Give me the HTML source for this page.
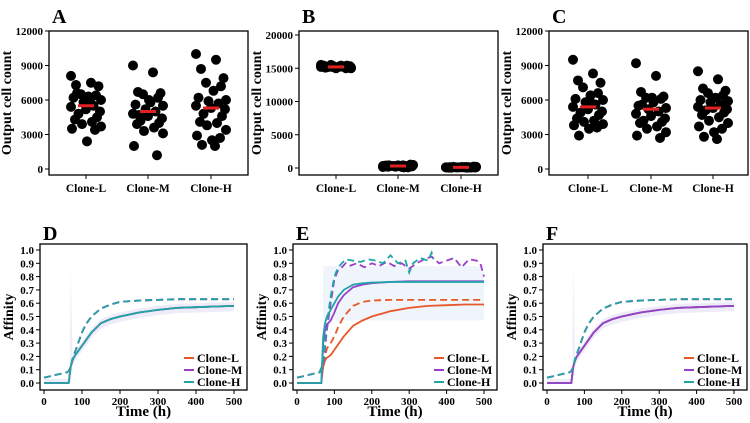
<!DOCTYPE html>
<html><head><meta charset="utf-8"><style>
html,body{margin:0;padding:0;background:#fff;}
svg{display:block;}
svg text{font-family:"Liberation Serif","DejaVu Serif",serif;font-weight:bold;}
</style></head><body>
<svg id="fig" width="750" height="423" viewBox="0 0 750 423" xmlns="http://www.w3.org/2000/svg"></svg>
<script>
const clones=["Clone-L","Clone-M","Clone-H"];
const aL=[8100,7500,7300,7200,6500,6400,6300,6200,6000,5800,5500,5400,5200,5000,4800,4500,4300,4100,3900,3700,3500,3400,2400,6600,6000];
const aM=[9000,8400,6700,6600,6500,6200,5800,5600,5500,5200,5000,4800,4600,4400,4200,4000,3900,3600,3300,3100,2000,1200,6000,4700];
const aH=[10000,9500,8700,7900,7500,7200,6800,6200,6000,5900,5700,5500,5300,5200,4800,4600,4100,4000,3800,3400,2900,2700,2500,2100,2000];
const bL=[15200,15400,15100,15300,15500,15000,15200,15400,15100,15300,15200,15500,15000,15300,15200,15400,15100,15300,15200,15000,15400,15300,15100,15200,15300];
const bM=[300,400,200,500,300,100,250,350,450,200,300,150,400,250,300,200,350,100,300,450,250,200,300,400,150];
const bH=[100,150,50,200,100,80,120,60,180,100,140,90,110,70,160,100,130,50,90,120,100,80,150,60,110];
const cL=[9500,8300,7700,7500,7100,6600,6400,6100,6000,5800,5600,5400,5200,5000,4900,4700,4400,4200,4100,3900,3800,3600,3500,2900,5700];
const cM=[9200,8100,6700,6300,6200,6100,5800,5500,5300,5200,5000,4800,4600,4400,4200,4100,4000,3700,3500,3200,2900,2700,6200,5600];
const cH=[8500,7800,7000,6800,6600,6400,6200,6000,5900,5800,5600,5400,5300,5200,5100,4900,4700,4500,4200,4000,3700,3500,3200,2800,2600];
const jitter=[-0.3,0.1,-0.2,0.25,-0.1,0.2,0.05,-0.25,0.3,-0.05,0.15,-0.3,0.0,0.28,-0.15,0.22,-0.22,0.12,-0.08,0.3,-0.28,0.18,0.02,-0.18,0.08];
const times=[0,60,65,70,75,80,90,100,110,125,150,175,200,250,300,350,400,450,500];
const dSolid=[0,0,0,0.12,0.17,0.2,0.24,0.28,0.32,0.38,0.45,0.48,0.5,0.53,0.55,0.565,0.57,0.575,0.58];
const dDash=[0.04,0.08,0.09,0.12,0.18,0.22,0.3,0.38,0.44,0.5,0.56,0.59,0.61,0.62,0.625,0.63,0.63,0.63,0.63];
const eL=[0,0,0,0.12,0.17,0.19,0.21,0.25,0.29,0.35,0.43,0.47,0.5,0.54,0.565,0.58,0.585,0.59,0.59];
const eLd=[0.04,0.08,0.09,0.13,0.2,0.26,0.3,0.35,0.42,0.5,0.58,0.61,0.62,0.625,0.625,0.625,0.625,0.625,0.625];
const eM=[0,0,0,0.3,0.4,0.44,0.47,0.53,0.6,0.66,0.72,0.74,0.75,0.76,0.765,0.765,0.765,0.765,0.765];
const eH=[0,0,0,0.35,0.45,0.5,0.55,0.6,0.65,0.7,0.74,0.75,0.755,0.76,0.76,0.76,0.76,0.76,0.76];
const noiseT=[0,60,70,80,90,100,110,120,130,140,160,180,200,220,240,260,280,300,320,340,360,380,400,420,440,460,480,490,500];
const eMd=[0.04,0.08,0.12,0.4,0.6,0.78,0.85,0.87,0.9,0.88,0.9,0.87,0.9,0.88,0.91,0.88,0.9,0.86,0.9,0.93,0.95,0.9,0.92,0.94,0.87,0.93,0.92,0.9,0.8];
const eHdT=[0,60,70,80,90,100,110,120,130,150,170,190,210,230,250,270,290,300,310,330,350,360,365];
const eHd=[0.04,0.08,0.15,0.45,0.65,0.8,0.87,0.9,0.93,0.92,0.91,0.93,0.92,0.9,0.96,0.9,0.92,0.83,0.9,0.94,0.92,0.98,0.93];
const bandT=[70,75,80,100,500];
const bandLoE=[0.02,0.45,0.47,0.47,0.47];
const bandHiE=[0.88,0.88,0.88,0.88,0.88];
const colL="#e8572a",colM="#9b3fc9",colH="#1fa5a8";
const svg=document.getElementById('fig');
const NS="http://www.w3.org/2000/svg";
function mk(tag,attrs,parent,name,txt){const e=document.createElementNS(NS,tag);for(const k in attrs)e.setAttribute(k,attrs[k]);


if(tag==='text'){e.setAttribute('font-family','Liberation Serif, serif');e.setAttribute('font-weight','bold');}
if(txt!==undefined)e.textContent=txt;(parent||svg).appendChild(e);return e;}

function scatterPanel(letter,box,yMax,ticks,y0px,yTopPx,data,xs){
  const g=mk('g',{},svg,'panel-'+letter.toLowerCase());
  const yS=v=>y0px+(yTopPx-y0px)*v/yMax;
  mk('text',{x:box[0]+3,y:box[1]-8,'font-size':20},g,'panel-label',letter);
  mk('rect',{x:box[0],y:box[1],width:box[2]-box[0],height:box[3]-box[1],fill:'none',stroke:'#000','stroke-width':1.3},g,'plot-frame');
  ticks.forEach(t=>{const y=yS(t);mk('line',{x1:box[0]-4,x2:box[0],y1:y,y2:y,stroke:'#000'},g,'y-tick');
    mk('text',{x:box[0]-6,y:y+4,'font-size':11,'text-anchor':'end'},g,'y-tick-label',t);});
  mk('text',{transform:`translate(${box[0]-38},${(box[1]+box[3])/2}) rotate(-90)`,'font-size':14,'text-anchor':'middle'},g,'y-axis-title','Output cell count');
  clones.forEach((c,i)=>{const x=xs[i];
    mk('line',{x1:x,x2:x,y1:box[3],y2:box[3]+4,stroke:'#000'},g,'x-tick');
    mk('text',{x:x,y:box[3]+17,'font-size':11.5,'text-anchor':'middle'},g,'x-tick-label',c);
    const vals=data[i];
    vals.forEach((v,j)=>{mk('circle',{cx:x+jitter[j%jitter.length]*50,cy:yS(v),r:5,fill:'#000'},g,'dot-'+c.toLowerCase());});
    const s=[...vals].sort((a,b)=>a-b);const med=s[Math.floor(s.length/2)];
    mk('line',{x1:x-8,x2:x+8,y1:yS(med),y2:yS(med),stroke:'#e32020','stroke-width':3},g,'median-bar');
  });
}
scatterPanel('A',[49,31,248,175],12000,[0,3000,6000,9000,12000],169,31,[aL,aM,aH],[86,148,211]);
scatterPanel('B',[299,31,498,175],20000,[0,5000,10000,15000,20000],168,35,[bL,bM,bH],[336,398,461]);
scatterPanel('C',[549,31,748,175],12000,[0,3000,6000,9000,12000],169,31,[cL,cM,cH],[588,651,713]);

function linePanel(letter,box,series,bands){
  const g=mk('g',{},svg,'panel-'+letter.toLowerCase());
  const x0=box[0]+4,x1=box[2]-13,y0=383,y1=250;
  const xS=t=>x0+(x1-x0)*t/500, yS=v=>y0+(y1-y0)*v;
  mk('text',{x:box[0]+3,y:box[1]-4,'font-size':20},g,'panel-label',letter);
  bands.forEach(b=>{let p=b.t.map((t,i)=>xS(t)+','+yS(b.hi[i])).concat(b.t.slice().reverse().map((t,i)=>xS(t)+','+yS(b.lo[b.lo.length-1-i])));
    mk('polygon',{points:p.join(' '),fill:b.c,opacity:b.o},g,'confidence-band');});
  series.forEach(s=>{mk('polyline',{points:s.t.map((t,i)=>xS(t)+','+yS(s.v[i])).join(' '),fill:'none',stroke:s.c,'stroke-width':1.8,'stroke-dasharray':s.d?'7,4':'none'},g,'line-'+s.n);});
  mk('rect',{x:box[0],y:box[1],width:box[2]-box[0],height:box[3]-box[1],fill:'none',stroke:'#000','stroke-width':1.3},g,'plot-frame');
  for(let k=0;k<=10;k++){const v=k/10,y=yS(v);mk('line',{x1:box[0]-4,x2:box[0],y1:y,y2:y,stroke:'#000'},g,'y-tick');
    mk('text',{x:box[0]-6,y:y+4,'font-size':11,'text-anchor':'end'},g,'y-tick-label',v.toFixed(1));}
  [0,100,200,300,400,500].forEach(t=>{const x=xS(t);mk('line',{x1:x,x2:x,y1:box[3],y2:box[3]+4,stroke:'#000'},g,'x-tick');
    mk('text',{x:x,y:box[3]+15,'font-size':11,'text-anchor':'middle'},g,'x-tick-label',t);});
  mk('text',{transform:`translate(${box[0]-27},${(box[1]+box[3])/2}) rotate(-90)`,'font-size':14,'text-anchor':'middle'},g,'y-axis-title','Affinity');
  mk('text',{x:(box[0]+box[2])/2,y:416,'font-size':15,'text-anchor':'middle'},g,'x-axis-title','Time (h)');
  [[colL,'Clone-L'],[colM,'Clone-M'],[colH,'Clone-H']].forEach((l,i)=>{const y=358+i*12;
    mk('line',{x1:box[2]-63,x2:box[2]-53,y1:y,y2:y,stroke:l[0],'stroke-width':2},g,'legend-swatch');
    mk('text',{x:box[2]-50,y:y+4,'font-size':12},g,'legend-entry',l[1]);});
}
const dBandLo=dSolid.map(v=>Math.max(0,v-0.04)), dBandHi=dSolid.map(v=>v+0.03);
const spikeT=[68,70,72,75],spikeLo=[0,0,0.05,0.15],spikeHi=[0.3,0.9,0.6,0.25];
linePanel('D',[40,244,247,390],[
 {t:times,v:dSolid,c:colL,n:'clone-l'},{t:times,v:dSolid,c:colM,n:'clone-m'},{t:times,v:dSolid,c:colH,n:'clone-h'},
 {t:times,v:dDash,c:colL,d:1,n:'clone-l-dashed'},{t:times,v:dDash,c:colM,d:1,n:'clone-m-dashed'},{t:times,v:dDash,c:colH,d:1,n:'clone-h-dashed'}],
 [{t:times,lo:dBandLo,hi:dBandHi,c:'#dcdaf2',o:0.5},{t:spikeT,lo:spikeLo,hi:spikeHi,c:'#e2dff3',o:0.5}]);
linePanel('E',[293,244,497,390],[
 {t:times,v:eL,c:colL,n:'clone-l'},{t:times,v:eLd,c:colL,d:1,n:'clone-l-dashed'},
 {t:noiseT,v:eMd,c:colM,d:1,n:'clone-m-dashed'},{t:eHdT,v:eHd,c:colH,d:1,n:'clone-h-dashed'},
 {t:times,v:eM,c:colM,n:'clone-m'},{t:times,v:eH,c:colH,n:'clone-h'}],
 [{t:bandT,lo:bandLoE,hi:bandHiE,c:'#e6eff8',o:0.6}]);
linePanel('F',[543,244,747,390],[
 {t:times,v:dSolid,c:colL,n:'clone-l'},{t:times,v:dSolid,c:colH,n:'clone-h'},{t:times,v:dSolid,c:colM,n:'clone-m'},
 {t:times,v:dDash,c:colL,d:1,n:'clone-l-dashed'},{t:times,v:dDash,c:colM,d:1,n:'clone-m-dashed'},{t:times,v:dDash,c:colH,d:1,n:'clone-h-dashed'}],
 [{t:times,lo:dBandLo,hi:dBandHi,c:'#dcdaf2',o:0.5},{t:spikeT,lo:spikeLo,hi:spikeHi,c:'#e2dff3',o:0.5}]);
</script>
</body></html>
